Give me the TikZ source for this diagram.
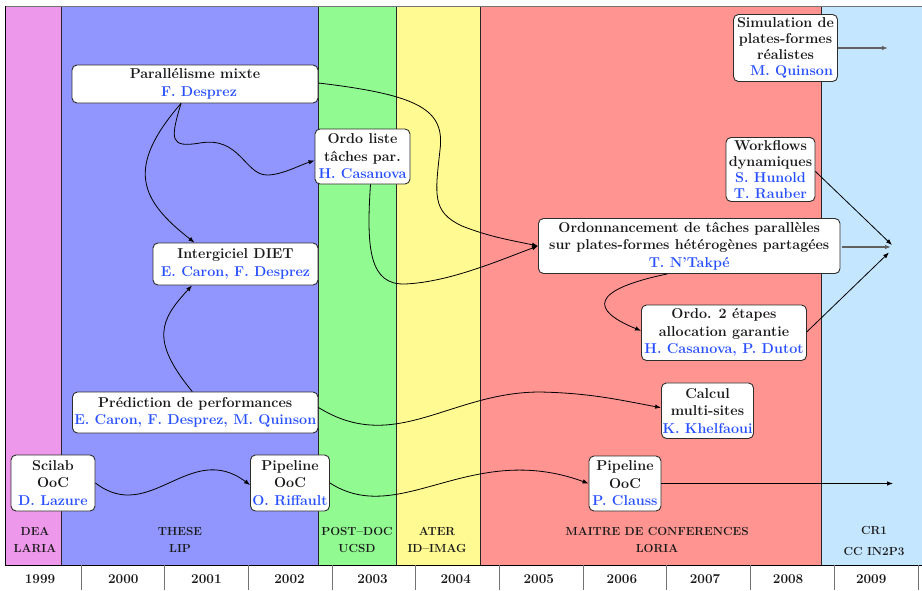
\documentclass[tikz,border=0pt]{standalone}
\usepackage{fontspec}
\usetikzlibrary{arrows.meta}
\definecolor{cDEA}{RGB}{238,152,236}
\definecolor{cThese}{RGB}{145,150,255}
\definecolor{cPost}{RGB}{145,250,145}
\definecolor{cAter}{RGB}{255,250,145}
\definecolor{cMdc}{RGB}{255,148,145}
\definecolor{cCr}{RGB}{197,230,255}
\definecolor{auth}{RGB}{40,80,255}
\definecolor{boxline}{RGB}{45,45,45}
\newcommand{\au}[1]{\textcolor{auth}{#1}}
\tikzset{
  box/.style={draw=boxline, line width=0.9pt, fill=white, rounded corners=5pt,
    align=center, inner sep=0pt, text=black!90,
    font=\fontsize{14.3}{17.5}\selectfont\bfseries},
  tallbox/.style={box, font=\fontsize{14.3}{16.2}\selectfont\bfseries},
  lnk/.style={-{Latex[length=6pt,width=4.5pt]}, line width=0.8pt, black},
  flat/.style={-{Latex[length=6pt,width=4.5pt]}, line width=1.3pt, black!62},
  region/.style={font=\fontsize{11.7}{16.6}\selectfont\bfseries, align=center, text=black!90},
  yearlab/.style={font=\fontsize{13.5}{15}\selectfont\bfseries, text=black!90},
  sep/.style={black!55, line width=0.9pt},
  border/.style={black!85, line width=0.8pt},
}
\begin{document}
\begin{tikzpicture}[x=1pt,y=-1pt]
\useasboundingbox (0,0) rectangle (922,590);
% background periods
\fill[cDEA]   (5,6)   rectangle (61,565);
\fill[cThese] (61,6)  rectangle (318,565);
\fill[cPost]  (318,6) rectangle (396,565);
\fill[cAter]  (396,6) rectangle (480,565);
\fill[cMdc]   (480,6) rectangle (821,565);
\fill[cCr]    (821,6) rectangle (922,565);
\foreach \x in {61,318,396,480,821} \draw[border] (\x,6) -- (\x,565);
\draw[black!55, line width=0.9pt] (5,6) -- (922,6);
\draw[black, line width=0.9pt] (5,6) -- (5,565);
\draw[black, line width=0.9pt] (5,565) -- (922,565);
% timeline
\foreach \k in {0,...,10} \draw[sep] ({81+83.7*\k},565) -- ({81+83.7*\k},590);
\node[yearlab] (y1999) at (40,579) {1999};
\foreach \k/\yr in {0/2000,1/2001,2/2002,3/2003,4/2004,5/2005,6/2006,7/2007,8/2008,9/2009}
  \node[yearlab] (y\yr) at ({123.3+83.1*\k},579) {\yr};
% period labels
\node[region] (lDEA) at (35,540) {DEA\\LARIA};
\node[region] (lThese) at (180,540) {THESE\\LIP};
\node[region] (lPost) at (357,540) {POST--DOC\\UCSD};
\node[region] (lAter) at (437,540) {ATER\\ID--IMAG};
\node[region] (lMdc) at (657,540) {MAITRE DE CONFERENCES\\LORIA};
\node[region] (lCr) at (874,541) {CR1\\[4pt]CC IN2P3};
% boxes
\node[box, minimum width=246pt, minimum height=38pt] (pm) at (195,84)
  {Parallélisme mixte\\\hspace*{8pt}\au{F. Desprez}};
\node[box, minimum width=95pt, minimum height=55pt] (ol) at (362.5,156.5)
  {Ordo liste\\tâches par.\\\au{H. Casanova}};
\node[box, minimum width=165pt, minimum height=42pt] (diet) at (235.5,264)
  {Intergiciel DIET\\\au{E. Caron, F. Desprez}};
\node[box, minimum width=245.5pt, minimum height=41pt] (pred) at (195.25,412.5)
  {Prédiction de performances\\\au{E. Caron, F. Desprez, M. Quinson}};
\node[box, minimum width=84pt, minimum height=56pt] (sci) at (53,483)
  {Scilab\\OoC\\\au{D. Lazure}};
\node[box, minimum width=79pt, minimum height=56pt] (pr) at (290,483)
  {Pipeline\\OoC\\\au{O. Riffault}};
\node[box, minimum width=72pt, minimum height=55pt] (pc) at (625,483.5)
  {Pipeline\\OoC\\\au{P. Clauss}};
\node[box, minimum width=92pt, minimum height=55.5pt] (cal) at (707.5,410.7)
  {Calcul\\multi-sites\\\au{K. Khelfaoui}};
\node[box, minimum width=301.5pt, minimum height=55pt] (ord) at (689.25,246)
  {Ordonnancement de tâches parallèles\\sur plates-formes hétérogènes partagées\\\au{T. N’Takpé}};
\node[box, minimum width=165pt, minimum height=55.5pt] (o2) at (724,332.75)
  {Ordo. 2 étapes\\allocation garantie\\\au{H. Casanova, P. Dutot}};
\node[tallbox, minimum width=89pt, minimum height=64pt] (wf) at (770.5,169.5)
  {Workflows\\dynamiques\\\au{S. Hunold}\\\au{T. Rauber}};
\node[tallbox, minimum width=104pt, minimum height=67pt] (sim) at (785.5,48)
  {Simulation de\\plates-formes\\réalistes\\\hspace*{12pt}\au{M. Quinson}};
% free ends
\coordinate (cvA) at (892,245);
\coordinate (cvB) at (891,247);
\coordinate (cvC) at (889,252.5);
\coordinate (simEnd) at (888,48);
\coordinate (clEnd) at (893,483.5);
% connectors
\draw[lnk] ([xshift=-14pt]pm.south) .. controls (125,168) and (140,200) .. ([xshift=-41pt]diet.north);
\draw[lnk] ([xshift=-14pt]pm.south) .. controls (170,140) and (170,148) .. (200,143)
   .. controls (240,136) and (245,175) .. (267,175)
   .. controls (282,175) and (300,165) .. ([yshift=-4pt]ol.west);
\draw[lnk] ([yshift=1pt]pm.east) .. controls (420,95) and (445,110) .. (440,150)
   .. controls (435,195) and (432,212) .. (462,226)
   .. controls (490,237) and (510,240) .. (ord.west);
\draw[lnk] ([xshift=8pt]ol.south) .. controls (366,250) and (370,285) .. (405,284)
   .. controls (450,282) and (500,260) .. (ord.west);
\draw[lnk] ([xshift=-3pt]pred.north) .. controls (150,340) and (160,320) .. ([xshift=-43.5pt]diet.south);
\draw[lnk] ([yshift=5pt]pred.east) .. controls (395,455) and (450,392) .. (540,392)
   .. controls (590,393) and (620,400) .. ([yshift=3pt]cal.west);
\draw[lnk] (sci.east) .. controls (150,525) and (190,440) .. ([yshift=-2pt]pr.west);
\draw[lnk] (pr.east) .. controls (400,528) and (470,440) .. (pc.west);
\draw[lnk] (pc.east) -- (clEnd);
\draw[lnk] ([xshift=-22pt]ord.south) .. controls (590,290) and (590,310) .. ([yshift=2pt]o2.west);
\draw[flat] ([xshift=2pt,yshift=-1pt]ord.east) -- (cvB);
\draw[lnk] ([yshift=-2pt]wf.east) -- (cvA);
\draw[lnk] ([yshift=1pt]o2.east) -- (cvC);
\draw[flat] (sim.east) -- (simEnd);
\end{tikzpicture}
\end{document}
